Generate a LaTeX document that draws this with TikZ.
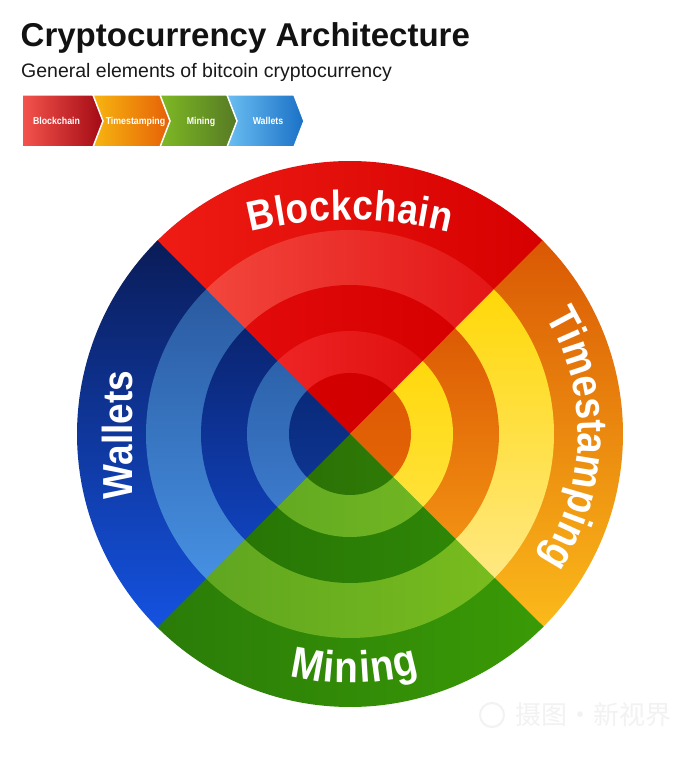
\documentclass[tikz,border=0pt]{standalone}
\usepackage{fontspec}
\setmainfont{Liberation Sans}
\newfontfamily\condb[FakeStretch=0.88]{Liberation Sans}
\newfontfamily\wmcjk{Noto Sans CJK SC}
\usetikzlibrary{decorations.text}

% ring colours: top (left->right), right (top->bottom), bottom (left->right), left (top->bottom)
\definecolor{TaA}{HTML}{EE1C14}\definecolor{TaB}{HTML}{D60000}
\definecolor{TbA}{HTML}{F2463C}\definecolor{TbB}{HTML}{E31616}
\definecolor{TcA}{HTML}{E20A0A}\definecolor{TcB}{HTML}{D60000}
\definecolor{TdA}{HTML}{EE2424}\definecolor{TdB}{HTML}{E01010}
\definecolor{TeA}{HTML}{D50000}\definecolor{TeB}{HTML}{D00000}
\definecolor{RaA}{HTML}{DA5804}\definecolor{RaB}{HTML}{FBBA1A}
\definecolor{RbA}{HTML}{FFD808}\definecolor{RbB}{HTML}{FFE882}
\definecolor{RcA}{HTML}{DC5A04}\definecolor{RcB}{HTML}{F29012}
\definecolor{RdA}{HTML}{FFD80C}\definecolor{RdB}{HTML}{FFE23A}
\definecolor{ReA}{HTML}{DE5A04}\definecolor{ReB}{HTML}{E46406}
\definecolor{BaA}{HTML}{2A7C08}\definecolor{BaB}{HTML}{3A9A06}
\definecolor{BbA}{HTML}{60A620}\definecolor{BbB}{HTML}{78BC1E}
\definecolor{BcA}{HTML}{287606}\definecolor{BcB}{HTML}{2E8606}
\definecolor{BdA}{HTML}{64AA22}\definecolor{BdB}{HTML}{70B622}
\definecolor{BeA}{HTML}{2C7206}\definecolor{BeB}{HTML}{2E7A06}
\definecolor{LaA}{HTML}{0A1C58}\definecolor{LaB}{HTML}{1452E0}
\definecolor{LbA}{HTML}{2A5AA0}\definecolor{LbB}{HTML}{4690E2}
\definecolor{LcA}{HTML}{0A2470}\definecolor{LcB}{HTML}{1042BC}
\definecolor{LdA}{HTML}{2C62AA}\definecolor{LdB}{HTML}{3C7ACC}
\definecolor{LeA}{HTML}{0A2A7A}\definecolor{LeB}{HTML}{0C3490}
% chevron colours
\definecolor{chRA}{HTML}{F4544C}\definecolor{chRB}{HTML}{A30A14}
\definecolor{chOA}{HTML}{F8BA10}\definecolor{chOB}{HTML}{E66008}
\definecolor{chGA}{HTML}{80BC24}\definecolor{chGB}{HTML}{567A24}
\definecolor{chBA}{HTML}{6EC2F4}\definecolor{chBB}{HTML}{1A70C6}

\newcommand\lblfont{\condb\bfseries\fontsize{42}{42}\selectfont\color{white}}
\newcommand\lblfontt{\condb\bfseries\fontsize{43}{43}\selectfont\color{white}}
\newcommand\lblfontb{\condb\bfseries\fontsize{44}{44}\selectfont\color{white}}
% pie slice: start angle, end angle, radius, shading options
\newcommand\pieslice[4]{\shade[#4] (0,0) -- (#1:#3pt) arc[start angle=#1,end angle=#2,radius=#3pt] -- cycle;}
% chevron: x, left colour, right colour, notch depth
\newcommand\chev[4]{\shadedraw[left color=#2,right color=#3,draw=white,line width=1.5pt,line join=miter]
  (#1,663) -- ++(71,0) -- ++(10,-26) -- ++(-10,-26) -- ++(-71,0) -- ++(#4,26) -- cycle;}

\tikzset{
  chevlbl/.style={anchor=base,inner sep=0pt,text=white,font=\condb\bfseries\fontsize{10}{12}\selectfont},
}

\begin{document}
\begin{tikzpicture}[x=1pt,y=1pt]
\fill[white] (0,0) rectangle (700,758);
\useasboundingbox (0,0) rectangle (700,758);

% title
\node[anchor=base west,inner sep=0pt,text=black!93,font=\bfseries\fontsize{33}{36}\selectfont] (title) at (20.5,711.3) {Cryptocurrency Architecture};
\node[anchor=base west,inner sep=0pt,text=black!90,font=\fontsize{19.5}{22}\selectfont] (subtitle) at (21,680.7) {General elements of bitcoin cryptocurrency};

% legend chevrons (drawn right to left so each tip lies over the next notch)
\chev{223}{chBA}{chBB}{10}
\chev{156}{chGA}{chGB}{10}
\chev{89}{chOA}{chOB}{10}
\chev{22}{chRA}{chRB}{0}
\node[chevlbl] (lgb) at (56.5,633.7) {Blockchain};
\node[chevlbl] (lgt) at (135.5,633.7) {Timestamping};
\node[chevlbl] (lgm) at (201,633.7) {Mining};
\node[chevlbl] (lgw) at (268,633.7) {Wallets};

% circle
\begin{scope}[shift={(350,324)}]
  % ring 1 (outer)
  \pieslice{44.85}{135.15}{273}{left color=TaA,right color=TaB}
  \pieslice{-45.15}{45.15}{273}{top color=RaA,bottom color=RaB}
  \pieslice{224.85}{315.15}{273}{left color=BaA,right color=BaB}
  \pieslice{134.85}{225.15}{273}{top color=LaA,bottom color=LaB}
  % ring 2
  \pieslice{44.85}{135.15}{204}{left color=TbA,right color=TbB}
  \pieslice{-45.15}{45.15}{204}{top color=RbA,bottom color=RbB}
  \pieslice{224.85}{315.15}{204}{left color=BbA,right color=BbB}
  \pieslice{134.85}{225.15}{204}{top color=LbA,bottom color=LbB}
  % ring 3
  \pieslice{44.85}{135.15}{149}{left color=TcA,right color=TcB}
  \pieslice{-45.15}{45.15}{149}{top color=RcA,bottom color=RcB}
  \pieslice{224.85}{315.15}{149}{left color=BcA,right color=BcB}
  \pieslice{134.85}{225.15}{149}{top color=LcA,bottom color=LcB}
  % ring 4
  \pieslice{44.85}{135.15}{103}{left color=TdA,right color=TdB}
  \pieslice{-45.15}{45.15}{103}{top color=RdA,bottom color=RdB}
  \pieslice{224.85}{315.15}{103}{left color=BdA,right color=BdB}
  \pieslice{134.85}{225.15}{103}{top color=LdA,bottom color=LdB}
  % centre
  \pieslice{44.85}{135.15}{61}{left color=TeA,right color=TeB}
  \pieslice{-45.15}{45.15}{61}{top color=ReA,bottom color=ReB}
  \pieslice{224.85}{315.15}{61}{left color=BeA,right color=BeB}
  \pieslice{134.85}{225.15}{61}{top color=LeA,bottom color=LeB}

  % curved labels
  \path[decorate,decoration={text along path,text={|\lblfontt|Timestamping},text align=center}]
    (35:228pt) arc[start angle=35,end angle=-37.5,radius=228pt];
  \path[decorate,decoration={text along path,text={|\lblfontb|Mining},text align=fit to path}]
    (256:249pt) arc[start angle=256,end angle=286.3,radius=249pt];
\end{scope}
\path[shift={(350,128)},decorate,decoration={text along path,text={|\lblfont|Blockchain},text align=fit to path}]
  (104:410pt) arc[start angle=104,end angle=76,radius=410pt];
\node[rotate=90,anchor=base,inner sep=0pt,text=white,font=\condb\bfseries\fontsize{42}{42}\selectfont] (wallets) at (132,323) {Wallets};

% watermark
\node[circle,draw=black!5,line width=2pt,minimum size=24pt,inner sep=0pt] (wmlogo) at (492,43) {};
\node[inner sep=0pt,text=black!5,font=\wmcjk\fontsize{26}{26}\selectfont] (wm) at (593,43) {摄图·新视界};
\end{tikzpicture}
\end{document}
